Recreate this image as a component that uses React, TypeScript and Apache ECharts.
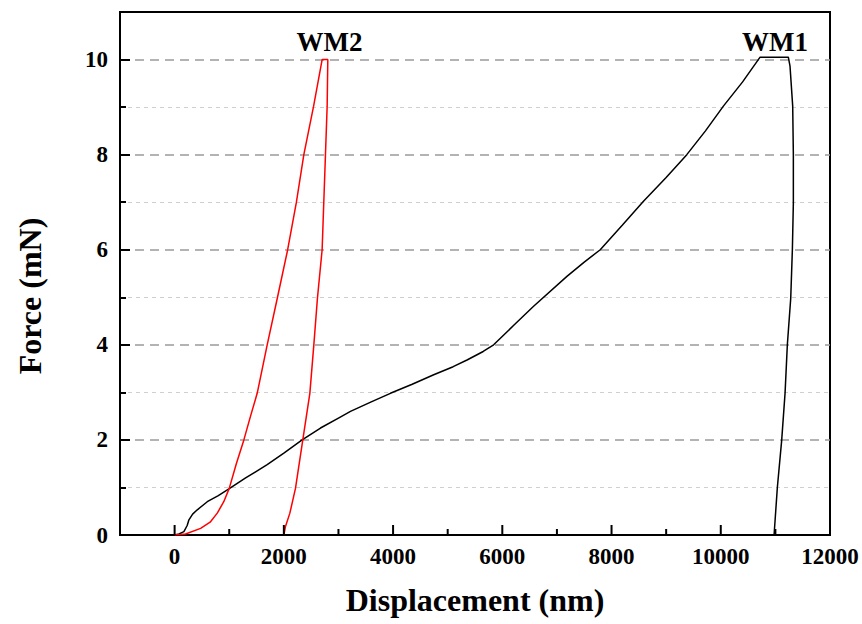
import React, { useEffect, useRef } from "react";
import * as echarts from "echarts";

// WM1 (black) load–unload curve: [displacement nm, force mN]
const wm1Curve: [number, number][] = [
  [0, 0], [80, 0.02], [170, 0.07], [230, 0.2], [262, 0.32], [330, 0.44], [415, 0.53],
  [598, 0.7], [800, 0.83], [994, 0.97], [1300, 1.2], [1695, 1.48], [2000, 1.72],
  [2335, 2.0], [2671, 2.25], [3000, 2.46], [3220, 2.6], [3600, 2.8], [3951, 2.98],
  [4350, 3.17], [4744, 3.37], [5100, 3.54], [5354, 3.68], [5650, 3.86], [5841, 4.0],
  [6200, 4.4], [6573, 4.81], [7183, 5.44], [7500, 5.74], [7793, 6.0], [8200, 6.52],
  [8585, 7.02], [9000, 7.52], [9378, 8.0], [9720, 8.5], [10048, 9.02], [10400, 9.53],
  [10720, 10.05], [11237, 10.05], [11268, 9.86], [11317, 9.02], [11329, 8.0],
  [11329, 6.98], [11311, 6.0], [11281, 4.98], [11219, 4.0], [11177, 2.98], [11116, 2.0],
  [11036, 1.0], [10976, 0],
];

// WM2 (red) load–unload curve
const wm2Curve: [number, number][] = [
  [0, 0], [200, 0.02], [476, 0.14], [650, 0.27], [781, 0.46], [900, 0.7], [1000, 0.98],
  [1130, 1.5], [1268, 2.0], [1390, 2.5], [1512, 2.98], [1695, 4.0], [1880, 4.98],
  [2070, 6.0], [2230, 7.0], [2366, 8.0], [2545, 9.02], [2701, 10.0], [2805, 10.0],
  [2793, 9.02], [2762, 8.0], [2701, 6.0], [2615, 4.98], [2549, 4.0], [2476, 2.98],
  [2347, 2.0], [2213, 0.98], [2110, 0.46], [2030, 0.18], [2000, 0],
];

// Curve annotations
const curveLabels: { name: string; value: [number, number] }[] = [
  { name: "WM2", value: [2835, 10.36] },
  { name: "WM1", value: [10994, 10.36] },
];

// x ticks: major (labelled) and minor
const xMajorTicks: number[] = [0, 2000, 4000, 6000, 8000, 10000, 12000];
const xMinorTicks: number[] = [1000, 3000, 5000, 7000, 9000, 11000];

const xRange = [-1000, 12000];
const yRange = [0, 11];
const xTitle = "Displacement (nm)";
const yTitle = "Force (mN)";

const FONT = '"Liberation Serif", "Times New Roman", serif';

export default function App() {
  const ref = useRef<HTMLDivElement>(null);

  useEffect(() => {
    if (!ref.current) return;
    const chart = echarts.init(ref.current, null, { renderer: "svg" });
    const majorGrid = { type: [9, 6] as any, color: "#9a9a9a", width: 1.5 };
    const minorGrid = { type: [4, 4] as any, color: "#cfcfcf", width: 1 };
    chart.setOption({
      animation: false,
      backgroundColor: "#ffffff",
      grid: {
        left: 120,
        right: 32,
        top: 12,
        bottom: 89,
        show: true,
        borderColor: "#000",
        borderWidth: 2,
        backgroundColor: "transparent",
      },
      xAxis: {
        type: "value",
        min: xRange[0],
        max: xRange[1],
        interval: 1000,
        name: xTitle,
        nameLocation: "middle",
        nameGap: 49,
        nameTextStyle: { fontFamily: FONT, fontWeight: "bold", fontSize: 32, color: "#000" },
        axisLine: { show: true, onZero: false, lineStyle: { color: "#000", width: 2 } },
        axisTick: { show: false },
        minorTick: { show: false },
        axisLabel: {
          show: true,
          fontFamily: FONT,
          fontWeight: "bold",
          fontSize: 23,
          color: "#000",
          margin: 10,
          formatter: (v: number) => (v >= 0 && v % 2000 === 0 ? String(v) : ""),
        },
        splitLine: { show: false },
        minorSplitLine: { show: false },
      },
      yAxis: {
        type: "value",
        min: yRange[0],
        max: yRange[1],
        interval: 2,
        axisLine: { show: true, onZero: false, lineStyle: { color: "#000", width: 2 } },
        axisTick: { show: true, inside: true, length: 10, lineStyle: { color: "#000", width: 2 } },
        minorTick: { show: true, splitNumber: 2, length: 6, lineStyle: { color: "#000", width: 2 } },
        axisLabel: {
          fontFamily: FONT,
          fontWeight: "bold",
          fontSize: 23,
          color: "#000",
          margin: 12,
          formatter: (v: number) => (v > 10 ? "" : String(v)),
        },
        splitLine: { show: true, showMinLine: false, showMaxLine: false, lineStyle: majorGrid },
        minorSplitLine: { show: true, lineStyle: minorGrid },
      },
      series: [
        {
          name: "WM1",
          type: "line",
          data: wm1Curve,
          showSymbol: false,
          symbol: "none",
          lineStyle: { color: "#000", width: 1.5 },
          z: 3,
        },
        {
          name: "WM2",
          type: "line",
          data: wm2Curve,
          showSymbol: false,
          symbol: "none",
          lineStyle: { color: "#ff0000", width: 1.5 },
          z: 4,
        },
        {
          type: "scatter",
          data: curveLabels,
          symbolSize: 0,
          silent: true,
          itemStyle: { opacity: 1, color: "#000" },
          label: {
            show: true,
            position: "inside",
            formatter: (p: any) => p.name,
            fontFamily: FONT,
            fontWeight: "bold",
            fontSize: 27,
            color: "#000",
            opacity: 1,
            textBorderWidth: 0,
          },
          z: 5,
        },
      ],
    });

    // x-axis ticks (inward) placed through the chart's own x scale
    const tickEl = (v: number, len: number) => {
      const p = chart.convertToPixel({ xAxisIndex: 0, yAxisIndex: 0 }, [v, 0]) as number[];
      return {
        type: "rect",
        silent: true,
        z: 100,
        shape: { x: p[0] - 1, y: p[1] - len, width: 2, height: len },
        style: { fill: "#000" },
      };
    };
    chart.setOption({
      graphic: [
        {
          type: "text",
          x: 30,
          y: 296,
          rotation: Math.PI / 2,
          style: {
            text: yTitle,
            font: `bold 32px ${FONT}`,
            fill: "#000",
            textAlign: "center",
            textVerticalAlign: "middle",
          },
        },
        ...xMajorTicks.map((v) => tickEl(v, 10)),
        ...xMinorTicks.map((v) => tickEl(v, 6)),
      ],
    });
    return () => chart.dispose();
  }, []);

  return (
    <div
      ref={ref}
      style={{ position: "fixed", left: 0, top: 0, width: 862, height: 624, background: "#fff" }}
    />
  );
}
